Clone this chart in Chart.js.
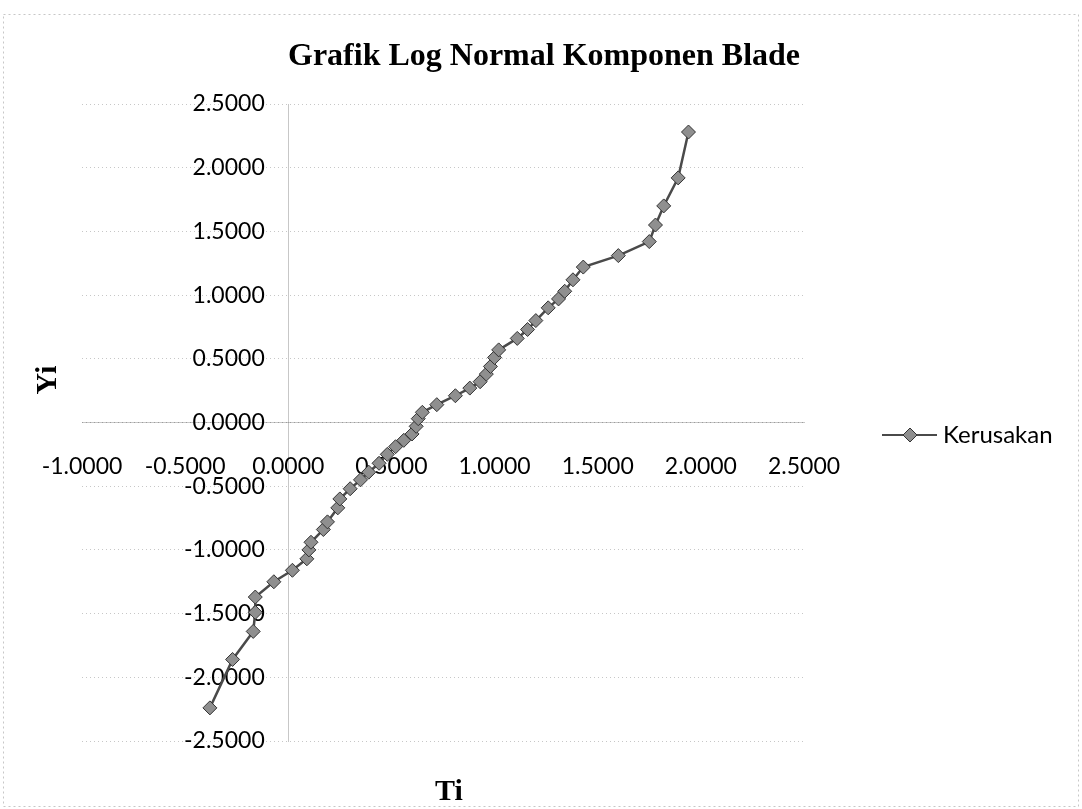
<!DOCTYPE html>
<html>
<head>
<meta charset="utf-8">
<title>Grafik Log Normal Komponen Blade</title>
<script src="https://cdn.jsdelivr.net/npm/chart.js@4.4.1/dist/chart.umd.min.js"></script>
<style>
  html, body { margin: 0; padding: 0; background: #fff; }
  #wrap { width: 1082px; height: 809px; position: relative; }
</style>
</head>
<body>
<div id="wrap"><canvas id="chart"></canvas></div>
<script>
// ===== DATA =====
const seriesName = 'Kerusakan';
const chartTitle = 'Grafik Log Normal Komponen Blade';
const xTitle = 'Ti';
const yTitle = 'Yi';

// Ti values (x)
const tiValues = [
    -0.38, -0.27, -0.17, -0.16, -0.16, -0.07, 0.02, 0.09, 0.10, 0.11,
    0.17, 0.19, 0.24, 0.25, 0.30, 0.35, 0.39, 0.44, 0.48, 0.52,
    0.56, 0.60, 0.62, 0.63, 0.65, 0.72, 0.81, 0.88, 0.93, 0.96,
    0.98, 1.00, 1.02, 1.11, 1.16, 1.20, 1.26, 1.31, 1.34, 1.38,
    1.43, 1.60, 1.75, 1.78, 1.82, 1.89, 1.94
];
// Yi values (y)
const yiValues = [
    -2.24, -1.86, -1.64, -1.49, -1.37, -1.25, -1.16, -1.07, -1.00, -0.94,
    -0.84, -0.78, -0.67, -0.60, -0.52, -0.45, -0.39, -0.32, -0.25, -0.19,
    -0.14, -0.09, -0.03, 0.03, 0.08, 0.14, 0.21, 0.27, 0.32, 0.38,
    0.44, 0.51, 0.57, 0.66, 0.73, 0.80, 0.90, 0.97, 1.03, 1.12,
    1.22, 1.31, 1.42, 1.55, 1.70, 1.92, 2.28
];

// axis ranges
const xMin = -1.0, xMax = 2.5, xStep = 0.5;
const yMin = -2.5, yMax = 2.5, yStep = 0.5;

// ===== STYLE =====
const tickFont = { family: 'Lato', size: 23 };
const gridColor = 'rgba(0, 0, 0, 0.22)';
const lineColor = '#4a4a4a';
const markerFill = '#8f8f8f';
const markerStroke = '#333333';

const points = tiValues.map((t, i) => ({ x: t, y: yiValues[i] }));

// title, axis titles, legend and the faint frame of the scan
const extrasPlugin = {
    id: 'extras',
    afterDraw(chart) {
        const ctx = chart.ctx;
        ctx.save();

        ctx.strokeStyle = 'rgba(0, 0, 0, 0.22)';
        ctx.lineWidth = 1;
        ctx.setLineDash([2, 3]);
        ctx.strokeRect(3.5, 14.5, 1075, 792);
        ctx.setLineDash([]);

        ctx.fillStyle = '#000';
        ctx.font = 'bold 32px "Liberation Serif"';
        ctx.textAlign = 'left';
        ctx.textBaseline = 'alphabetic';
        ctx.fillText(chartTitle, 288, 65);

        ctx.font = 'bold 30px "Liberation Serif"';
        ctx.textAlign = 'center';
        ctx.fillText(xTitle, 449, 800);

        ctx.save();
        ctx.translate(56, 380);
        ctx.rotate(-Math.PI / 2);
        ctx.fillText(yTitle, 0, 0);
        ctx.restore();

        // legend: line + diamond + label
        const ly = 435;
        ctx.strokeStyle = lineColor;
        ctx.lineWidth = 2;
        ctx.beginPath();
        ctx.moveTo(882, ly);
        ctx.lineTo(937, ly);
        ctx.stroke();

        const cx = 910, r = 7;
        ctx.beginPath();
        ctx.moveTo(cx, ly - r);
        ctx.lineTo(cx + r, ly);
        ctx.lineTo(cx, ly + r);
        ctx.lineTo(cx - r, ly);
        ctx.closePath();
        ctx.fillStyle = markerFill;
        ctx.fill();
        ctx.lineWidth = 1;
        ctx.strokeStyle = markerStroke;
        ctx.stroke();

        ctx.fillStyle = '#000';
        ctx.font = '24px Lato';
        ctx.textAlign = 'left';
        ctx.textBaseline = 'middle';
        ctx.fillText(chart.data.datasets[0].label, 943, ly);
        ctx.restore();
    }
};

new Chart(document.getElementById('chart').getContext('2d'), {
    type: 'scatter',
    data: {
        datasets: [{
            label: seriesName,
            data: points,
            showLine: true,
            borderColor: lineColor,
            borderWidth: 2.5,
            pointStyle: 'rectRot',
            pointRadius: 7,
            pointBackgroundColor: markerFill,
            pointBorderColor: markerStroke,
            pointBorderWidth: 1
        }]
    },
    options: {
        responsive: true,
        maintainAspectRatio: false,
        animation: false,
        layout: {
            padding: { left: 82, right: 278, top: 104, bottom: 68 }
        },
        plugins: {
            legend: { display: false },
            tooltip: { enabled: false },
            title: { display: false }
        },
        scales: {
            x: {
                type: 'linear',
                position: { y: 0 },
                min: xMin,
                max: xMax,
                grid: { display: false, drawTicks: false },
                border: { display: true, color: gridColor, width: 1, dash: [1, 3] },
                ticks: {
                    stepSize: xStep,
                    color: '#000',
                    font: tickFont,
                    padding: 30,
                    maxRotation: 0,
                    callback: v => Number(v).toFixed(4)
                }
            },
            y: {
                type: 'linear',
                position: { x: 0 },
                min: yMin,
                max: yMax,
                grid: { color: gridColor, lineWidth: 1, drawTicks: false },
                border: { display: true, color: gridColor, width: 1, dash: [1, 3] },
                ticks: {
                    stepSize: yStep,
                    color: '#000',
                    font: tickFont,
                    // labels sit a little left of the axis line
                    callback: v => Number(v).toFixed(4) + '    '
                }
            }
        }
    },
    plugins: [extrasPlugin]
});
</script>
</body>
</html>
